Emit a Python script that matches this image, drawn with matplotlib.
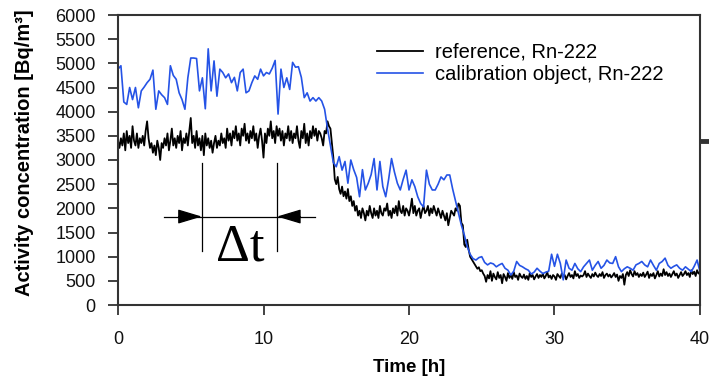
import numpy as np
import matplotlib
matplotlib.use("Agg")
import matplotlib.pyplot as plt
from matplotlib.lines import Line2D

plt.rcParams['font.family'] = ['Liberation Sans', 'DejaVu Sans']

# ---- data ----
# reference, Rn-222 : one value every 0.1 h from 0 to 40 h
ref_step = 0.1
ref_values = [
    3400, 3250, 3450, 3300, 3550, 3200, 3600, 3350, 3500, 3250,
    3700, 3400, 3300, 3550, 3250, 3450, 3350, 3500, 3300, 3600,
    3800, 3450, 3250, 3350, 3150, 3300, 3100, 3400, 3250, 3000,
    3350, 3250, 3450, 3300, 3550, 3200, 3400, 3650, 3300, 3450,
    3250, 3500, 3350, 3600, 3200, 3450, 3350, 3550, 3300, 3600,
    3870, 3350, 3500, 3250, 3600, 3300, 3450, 3200, 3500, 3100,
    3550, 3300, 3450, 3250, 3400, 3150, 3350, 3500, 3250, 3400,
    3300, 3550, 3350, 3450, 3250, 3650, 3400, 3550, 3300, 3600,
    3450, 3700, 3400, 3550, 3300, 3650, 3500, 3750, 3400, 3550,
    3350, 3600, 3450, 3700, 3400, 3550, 3250, 3500, 3650, 3400,
    3050, 3550, 3350, 3650, 3500, 3800, 3450, 3600, 3350, 3700,
    3500, 3650, 3400, 3600, 3300, 3550, 3450, 3700, 3400, 3600,
    3350, 3550, 3450, 3700, 3400, 3250, 3600, 3450, 3750, 3350,
    3550, 3300, 3600, 3450, 3700, 3500, 3650, 3400, 3600, 3550,
    3450, 3300, 3600, 3550, 3800, 3700, 3650, 3350, 3050, 2600,
    2500, 2650, 2400, 2300, 2450, 2250, 2350, 2200, 2400, 2150,
    2250, 2050, 2150, 1950, 2050, 1850, 1950, 1800, 2000, 1900,
    1750, 1950, 1850, 2050, 1900, 1800, 2000, 1850, 1950, 1800,
    2050, 1900, 1850, 2000, 1950, 2100, 1850, 1950, 1800, 2000,
    1900, 2050, 1850, 2150, 1950, 1900, 2050, 1850, 2000, 1950,
    1850, 2000, 2200, 1900, 2050, 1850, 1950, 2000, 1800, 1950,
    2050, 1900, 1950, 2050, 1850, 2000, 1900, 2050, 1950, 1850,
    2000, 1900, 1800, 1950, 1850, 1750, 1900, 1650, 1800, 1950,
    1900, 1850, 2000, 1950, 2100, 2050, 1700, 1650, 1250, 1200,
    1350, 1150, 1000, 950, 900, 850, 800, 750, 780, 700,
    720, 650, 600, 480, 620, 550, 700, 500, 650, 580,
    530, 680, 560, 620, 450, 640, 580, 500, 660, 560,
    620, 540, 680, 580, 610, 520, 650, 590, 560, 630,
    540, 600, 520, 660, 580, 620, 530, 590, 640, 560,
    620, 580, 650, 550, 600, 680, 570, 610, 540, 620,
    590, 520, 640, 600, 560, 650, 580, 620, 530, 600,
    660, 580, 620, 550, 700, 600, 640, 560, 610, 590,
    620, 700, 580, 650, 600, 560, 640, 590, 670, 610,
    580, 640, 600, 680, 560, 620, 650, 590, 630, 570,
    610, 660, 580, 630, 500, 600, 560, 640, 420, 620,
    680, 600, 720, 640, 590, 700, 620, 660, 580, 640,
    600, 670, 580, 630, 690, 560, 640, 600, 660, 550,
    620, 700, 590, 650, 600, 740, 620, 680, 600, 650,
    580, 640, 700, 610, 650, 560, 620, 680, 600, 640,
    700, 620, 660, 580, 720, 640, 690, 600, 720, 650,
    680,
]

# calibration object, Rn-222 : one value every 0.2 h from 0 to 40 h
cal_step = 0.2
cal_values = [
    4880, 4950, 4200, 4150, 4500,
    4250, 4500, 4080, 4430, 4510,
    4600, 4670, 4860, 4050, 4430,
    4350, 4290, 4150, 4950, 4750,
    4670, 4390, 4250, 4050, 4700,
    5110, 5110, 5100, 4430, 4700,
    4060, 5300, 4430, 5050, 4320,
    4880, 4810, 4700, 4780, 4600,
    4710, 4430, 4810, 4880, 4390,
    4430, 4600, 4740, 4670, 4880,
    4740, 4810, 4780, 4900, 5060,
    3950, 4880, 4500, 4700, 4460,
    5020, 4920, 4930, 4710, 4290,
    4390, 4220, 4290, 4220, 4290,
    4220, 4050, 3650, 3300, 2950,
    2860, 3070, 2790, 2970, 2520,
    3000, 2800, 2640, 2240, 2800,
    2380, 2520, 2700, 3030, 2380,
    2970, 2450, 2240, 2600, 3030,
    2750, 2520, 2380, 2600, 2790,
    2380, 2590, 2450, 2240, 2100,
    2030, 2790, 2500, 2380, 2380,
    2500, 2650, 2590, 2690, 2690,
    2400, 2150, 1900, 1650, 1450,
    1210, 1050, 960, 930, 980,
    1000, 880, 830, 870, 850,
    790, 830, 860, 760, 720,
    620, 700, 900, 820, 790,
    750, 720, 640, 680, 760,
    700, 650, 680, 700, 1050,
    800, 1050, 860, 520, 930,
    760, 720, 860, 750, 690,
    790, 860, 930, 720, 820,
    900, 760, 820, 930, 870,
    860, 1000, 790, 690, 750,
    790, 760, 720, 830, 860,
    900, 830, 790, 930, 820,
    720, 860, 900, 970, 820,
    760, 800, 830, 760, 720,
    790, 740, 690, 800, 930,
    690,
]

series_labels = ["reference, Rn-222", "calibration object, Rn-222"]
x_ticks = [0, 10, 20, 30, 40]
y_ticks = [0, 500, 1000, 1500, 2000, 2500, 3000, 3500, 4000, 4500, 5000, 5500, 6000]

# delta-t annotation (time markers, h) and its level (Bq/m3)
dt_start, dt_end = 5.76, 10.93
dt_level = 1830

ref_t = np.arange(len(ref_values)) * ref_step
cal_t = np.arange(len(cal_values)) * cal_step

fig = plt.figure(figsize=(7.09, 3.79), dpi=100)
ax = fig.add_axes([118 / 709, 1 - 305 / 379, 582 / 709, 290 / 379])

ax.plot(ref_t, ref_values, color='black', lw=1.3, label=series_labels[0])
ax.plot(cal_t, cal_values, color='#2553e6', lw=1.2, label=series_labels[1])

ax.set_xlim(0, 40)
ax.set_ylim(0, 6000)
ax.set_xticks(x_ticks)
ax.set_yticks(y_ticks)
ax.tick_params(axis='both', direction='out', length=7, width=1.3, color='#333333',
               labelsize=13, labelcolor='#111111', top=False, right=False)
ax.tick_params(axis='y', pad=9)
ax.tick_params(axis='x', pad=12)
for s in ax.spines.values():
    s.set_color('#333333')
    s.set_linewidth(1.5)

ax.set_xlabel('Time [h]', fontsize=13.5, fontweight='bold')
ax.xaxis.set_label_coords(0.5, -(376 - 305) / 290, transform=ax.transAxes)
ax.xaxis.label.set_va('bottom')
ax.set_ylabel('Activity concentration [Bq/m³]', fontsize=14.5, fontweight='bold')
ax.yaxis.set_label_coords(-(118 - 34) / 582, 0.525)

leg = ax.legend(loc='upper left', bbox_to_anchor=(0.445, 0.905), frameon=False,
                borderpad=0, borderaxespad=0, handlelength=2.3, handletextpad=0.6,
                labelspacing=0.15, fontsize=14.5)

# delta-t annotation
dy_v = 710
ax.plot([dt_start, dt_start], [dt_level - dy_v, dt_level + 1110], color='black', lw=0.9)
ax.plot([dt_end, dt_end], [dt_level - dy_v, dt_level + 1110], color='black', lw=0.9)
ax.plot([3.15, 13.55], [dt_level, dt_level], color='black', lw=0.9)
ax.annotate('', xy=(dt_start, dt_level), xytext=(dt_start - 1.6, dt_level),
            arrowprops=dict(arrowstyle='-|>,head_length=1.5,head_width=0.45',
                            color='black', lw=0.9, shrinkA=0, shrinkB=0))
ax.annotate('', xy=(dt_end, dt_level), xytext=(dt_end + 1.6, dt_level),
            arrowprops=dict(arrowstyle='-|>,head_length=1.5,head_width=0.45',
                            color='black', lw=0.9, shrinkA=0, shrinkB=0))
ax.text((dt_start + dt_end) / 2 + 0.05, 1180, 'Δt', fontsize=38,
        family=['Liberation Serif', 'DejaVu Serif'], ha='center', va='center')

# small dark mark at the right edge of the picture
fig.add_artist(Line2D([702 / 709, 1.0], [1 - 141 / 379, 1 - 141 / 379],
                      color='#333333', lw=3.5))

fig.savefig('out.png', dpi=100)
